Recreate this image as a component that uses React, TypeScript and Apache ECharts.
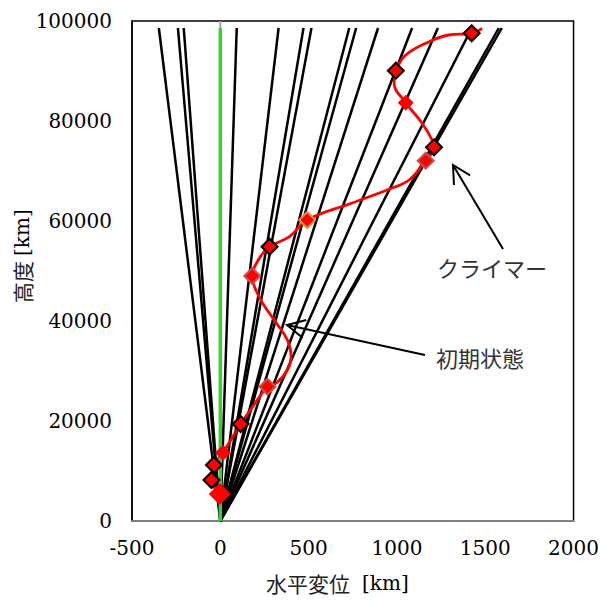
import React, { useEffect, useRef } from "react";
import * as echarts from "echarts";

// Tether lines: straight from origin to the top at these horizontal displacements [km]
const tetherTopX = [-348, -240, -207, 93, 330, 471, 516, 730, 769, 893, 1086, 1232, 1424, 1577, 1594];
const tetherTopY = 98600;

// Green vertical reference (initial straight tether)
const refX = [0, 0];
const refY = [0, 98600];
const refTopY = [98600, 100000];

// Red climber trajectory curve
const curveX = [1482, 1423, 1294, 1182, 1050, 994, 984, 1050, 1142, 1199, 1210, 1163, 1069, 973, 747, 492, 392, 279, 222, 181, 194, 239, 317, 380, 401, 380, 317, 267, 190, 115, 15, -36, -50, -3];
const curveY = [98540, 97540, 97200, 95860, 93200, 90060, 87600, 83660, 79600, 76200, 74740, 72060, 68200, 66600, 63600, 60200, 56860, 54860, 52600, 49000, 46800, 43600, 39600, 36200, 32860, 30200, 27600, 26860, 23200, 19400, 13660, 11200, 8200, 5400];

// Markers
const blackMarkX = [1423, 994, 1210, 279, 115, -36, -50];
const blackMarkY = [97540, 90060, 74740, 54860, 19400, 11200, 8200];
const redMarkX = [1050, 15];
const redMarkY = [83660, 13660];
const darkRedMarkX = [1163, 181, 267];
const darkRedMarkY = [72060, 49000, 26860];
const orangeMarkX = [492];
const orangeMarkY = [60200];
const bigMarkX = [-3];
const bigMarkY = [5400];

const xTicks = { min: -500, max: 2000, interval: 500 };
const yTicks = { min: 0, max: 100000, interval: 20000 };

const xTitle = ["水平変位", "[km]"];
const yTitle = ["高度", "[km]"];

const zip = (xs: number[], ys: number[]) => xs.map((x, i) => [x, ys[i]]);

function arrowHead(tip: number[], tail: number[], len: number, angDeg: number) {
  const dx = tail[0] - tip[0];
  const dy = tail[1] - tip[1];
  const a = Math.atan2(dy, dx);
  const r = (angDeg * Math.PI) / 180;
  return [
    [tip[0] + len * Math.cos(a + r), tip[1] + len * Math.sin(a + r)],
    tip,
    [tip[0] + len * Math.cos(a - r), tip[1] + len * Math.sin(a - r)],
  ];
}

export default function App() {
  const ref = useRef<HTMLDivElement>(null);
  useEffect(() => {
    if (!ref.current) return;
    const chart = echarts.init(ref.current, undefined, { renderer: "svg" });
    const serif = "DejaVu Serif";
    const cjk = "Noto Sans CJK JP";

    const tetherSeries = tetherTopX.map((tx, i) => ({
      type: "line",
      name: "tether" + i,
      data: [[0, 0], [tx, tetherTopY]],
      showSymbol: false,
      symbol: "none",
      lineStyle: { color: "#000", width: 2.5 },
      z: 2,
    }));

    const markerSeries = (xs: number[], ys: number[], border: string, bw: number, size: number, z: number) => ({
      type: "scatter",
      data: zip(xs, ys),
      symbol: "diamond",
      symbolSize: [size, size],
      itemStyle: { color: "#ff0000", borderColor: border, borderWidth: bw, opacity: 1 },
      z,
    });

    const a1tip = [453, 165], a1tail = [503, 249];
    const a2tip = [287, 325], a2tail = [425, 355];

    chart.setOption({
      animation: false,
      backgroundColor: "#fff",
      grid: {
        left: 132,
        right: 27,
        top: 21,
        bottom: 80,
        show: true,
        borderColor: "#000",
        borderWidth: 1.5,
        backgroundColor: "transparent",
      },
      xAxis: {
        type: "value",
        min: xTicks.min,
        max: xTicks.max,
        interval: xTicks.interval,
        splitLine: { show: false },
        axisTick: { show: false },
        axisLine: { show: true, onZero: false, lineStyle: { color: "#808080", width: 2 } },
        axisLabel: { color: "#000", fontFamily: serif, fontSize: 20, margin: 17, formatter: (v: number) => String(v) },
      },
      yAxis: {
        type: "value",
        min: yTicks.min,
        max: yTicks.max,
        interval: yTicks.interval,
        splitLine: { show: false },
        axisTick: { show: false },
        axisLine: { show: true, onZero: false, lineStyle: { color: "#000", width: 1.5 } },
        axisLabel: { color: "#000", fontFamily: serif, fontSize: 20, margin: 20, formatter: (v: number) => String(v) },
      },
      series: [
        ...tetherSeries,
        {
          type: "line",
          data: zip(curveX, curveY),
          smooth: 0.4,
          showSymbol: false,
          symbol: "none",
          lineStyle: { color: "#ff0000", width: 2.8 },
          z: 3,
        },
        {
          type: "line",
          data: zip(refX, refY),
          showSymbol: false,
          symbol: "none",
          lineStyle: { color: "#3ccc3c", width: 3.5 },
          z: 4,
        },
        {
          type: "line",
          data: zip(refX, refTopY),
          showSymbol: false,
          symbol: "none",
          lineStyle: { color: "#a0a0a0", width: 2 },
          z: 4,
        },
        markerSeries(blackMarkX, blackMarkY, "#000", 2, 16, 5),
        markerSeries(redMarkX, redMarkY, "#ff0000", 0, 16, 5),
        markerSeries(darkRedMarkX, darkRedMarkY, "#c85050", 2, 16, 5),
        markerSeries(orangeMarkX, orangeMarkY, "#e08a40", 2, 16, 5),
        markerSeries(bigMarkX, bigMarkY, "#ff0000", 0, 22, 6),
      ],
      graphic: [
        { type: "line", shape: { x1: a1tail[0], y1: a1tail[1], x2: a1tip[0], y2: a1tip[1] }, style: { stroke: "#000", lineWidth: 2 }, z: 10 },
        { type: "polyline", shape: { points: arrowHead(a1tip, a1tail, 20, 28) }, style: { stroke: "#000", lineWidth: 2, fill: null }, z: 10 },
        { type: "line", shape: { x1: a2tail[0], y1: a2tail[1], x2: a2tip[0], y2: a2tip[1] }, style: { stroke: "#000", lineWidth: 2 }, z: 10 },
        { type: "polyline", shape: { points: arrowHead(a2tip, a2tail, 20, 27) }, style: { stroke: "#000", lineWidth: 2, fill: null }, z: 10 },
        { type: "text", x: 437, y: 267, style: { text: "クライマー", fontFamily: cjk, fontSize: 22, fill: "#333", verticalAlign: "middle", align: "left" }, z: 10 },
        { type: "text", x: 436, y: 357, style: { text: "初期状態", fontFamily: cjk, fontSize: 22, fill: "#333", verticalAlign: "middle", align: "left" }, z: 10 },
        { type: "text", x: 350, y: 583, style: { text: xTitle[0], fontFamily: cjk, fontSize: 21, fill: "#222", verticalAlign: "middle", align: "right" }, z: 10 },
        { type: "text", x: 362, y: 583, style: { text: xTitle[1], fontFamily: serif, fontSize: 20, fill: "#000", verticalAlign: "middle", align: "left" }, z: 10 },
        {
          type: "group", x: 22, y: 256, rotation: Math.PI / 2,
          children: [
            { type: "text", x: -5, y: 0, style: { text: yTitle[0], fontFamily: cjk, fontSize: 21, fill: "#222", verticalAlign: "middle", align: "right" } },
            { type: "text", x: 0, y: 0, style: { text: yTitle[1], fontFamily: serif, fontSize: 20, fill: "#000", verticalAlign: "middle", align: "left" } },
          ],
          z: 10,
        },
      ],
    });
    return () => chart.dispose();
  }, []);
  return <div ref={ref} style={{ position: "fixed", left: 0, top: 0, width: 602, height: 601, background: "#fff" }} />;
}
